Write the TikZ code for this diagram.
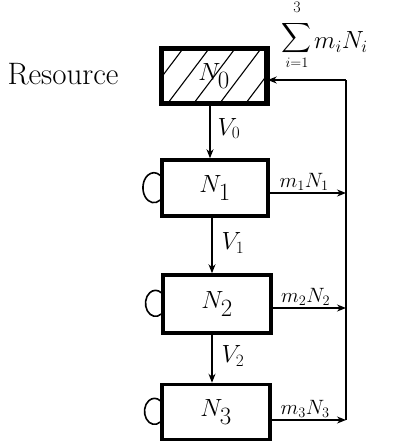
\documentclass[tikz,border=0pt]{standalone}
\usepackage{amsmath}
\usetikzlibrary{arrows.meta}
\begin{document}
\begin{tikzpicture}[x=1pt,y=-1pt,
  box/.style={draw,line width=3.5pt,minimum width=106pt,minimum height=56pt,inner sep=0pt,font=\fontsize{34}{36}\selectfont},
  flow/.style={line width=1.4pt,-{Stealth[length=9pt,width=7pt]}},
  lab/.style={font=\fontsize{21}{23}\selectfont,inner sep=1pt},
  vlab/.style={font=\fontsize{26}{28}\selectfont,inner sep=1pt},
  selfloop/.style={line width=1.6pt}]
\useasboundingbox (0,0) rectangle (400,443);
\node[box,minimum width=104pt,minimum height=53pt] (n0) at (214,76) {};
\begin{scope}
\clip (n0.south west) rectangle (n0.north east);
\foreach \s in {-20,6,32,58,84,110}
  \draw[line width=1.1pt] (162+\s,103) -- (162+\s+40,50);
\end{scope}
\node[box,minimum width=104pt,minimum height=53pt,draw=none,fill=none] (n0t) at (214,76) {$N_0$};
\draw[line width=3.5pt] (n0.south west) rectangle (n0.north east);
\node[box] (n1) at (215,188) {$N_1$};
\node[box,minimum width=108pt,minimum height=58pt] (n2) at (217,304) {$N_2$};
\node[box,minimum width=108pt,minimum height=55pt] (n3) at (216,412) {$N_3$};
\node[anchor=west,font=\fontsize{31}{33}\selectfont] (res) at (4,74) {Resource};
% flows down
\draw[flow] (n0.south -| 210,0) -- (n1.north -| 210,0) node[pos=0.45,right=6pt,vlab] (v0) {$V_0$};
\draw[flow] (n1.south -| 212,0) -- (n2.north -| 212,0) node[pos=0.45,right=8pt,vlab] (v1) {$V_1$};
\draw[flow] (n2.south -| 212,0) -- (n3.north -| 212,0) node[pos=0.45,right=8pt,vlab] (v2) {$V_2$};
% outputs
\coordinate (c1) at (346,193);
\coordinate (c2) at (346,308);
\coordinate (c3) at (346,420);
\coordinate (ctop) at (346,80);
\draw[flow] (n1.east |- c1) -- (c1) node[pos=0.45,above=1pt,lab] (l1) {$m_1N_1$};
\draw[flow] (n2.east |- c2) -- (c2) node[pos=0.45,above=1pt,lab] (l2) {$m_2N_2$};
\draw[flow] (n3.east |- c3) -- (c3) node[pos=0.45,above=1pt,lab] (l3) {$m_3N_3$};
\draw[line width=1.4pt] (c3) -- (ctop);
\draw[flow] (ctop) -- (n0.east |- ctop);
% sum label
\node[font=\fontsize{16}{18}\selectfont,inner sep=0pt] (sup3) at (297,7) {3};
\node[font=\fontsize{20}{22}\selectfont,inner sep=0pt] (sig) at (296,38) {$\displaystyle\sum$};
\node[font=\fontsize{14}{16}\selectfont,inner sep=0pt] (sub) at (297,63) {$i{=}1$};
\node[anchor=west,font=\fontsize{24}{26}\selectfont,inner sep=0pt] (mn) at (314,42) {$m_iN_i$};
% self loops
\draw[selfloop] ([yshift=-12pt]n1.west) arc[start angle=-55,end angle=-305,x radius=11pt,y radius=15pt];
\draw[selfloop] ([yshift=-10pt]n2.west) arc[start angle=-55,end angle=-305,x radius=10pt,y radius=13pt];
\draw[selfloop] ([yshift=-10pt]n3.west) arc[start angle=-55,end angle=-305,x radius=10pt,y radius=13pt];
\end{tikzpicture}
\end{document}
